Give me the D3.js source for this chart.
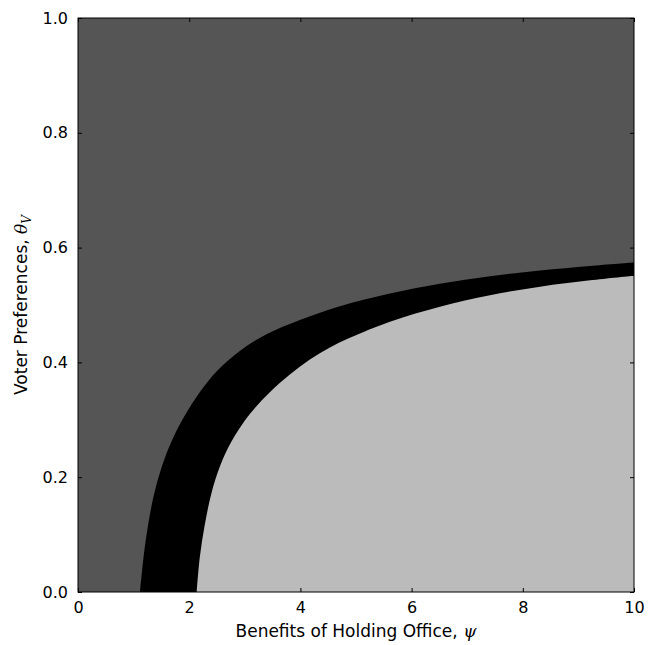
<!DOCTYPE html>
<html lang="en">
<head>
  <meta charset="utf-8">
  <title>Regions</title>
  <style>
    body { margin: 0; padding: 0; background: #fff; }
    text { font-family: 'DejaVu Sans', sans-serif; }
  </style>
</head>
<body>
  <div id="my_dataviz"></div>
  <script src="https://d3js.org/d3.v7.min.js"></script>
  <script>
    // boundary between dark gray and black region (psi, theta)
    var outerPsi   = [1.115, 1.205, 1.331, 1.439, 1.583, 1.763, 1.924, 2.19, 2.50, 2.91, 3.39, 3.99, 4.71, 5.61, 6.51, 7.41, 8.31, 9.21, 10.0];
    var outerTheta = [0.000, 0.081, 0.154, 0.197, 0.239, 0.279, 0.308, 0.348, 0.385, 0.420, 0.449, 0.474, 0.498, 0.520, 0.537, 0.550, 0.560, 0.568, 0.574];

    // boundary between black and light gray region
    var innerPsi   = [2.135, 2.19, 2.28, 2.40, 2.55, 2.76, 3.09, 3.45, 3.81, 4.17, 4.53, 4.89, 5.61, 6.51, 7.41, 8.31, 9.21, 10.0];
    var innerTheta = [0.000, 0.060, 0.117, 0.172, 0.218, 0.262, 0.310, 0.348, 0.379, 0.405, 0.426, 0.443, 0.471, 0.497, 0.517, 0.532, 0.543, 0.551];

    var xTicks = [0, 2, 4, 6, 8, 10];
    var yTicks = [0.0, 0.2, 0.4, 0.6, 0.8, 1.0];

    var margin = { top: 18, right: 16, bottom: 53, left: 78 },
      width = 650 - margin.left - margin.right,
      height = 645 - margin.top - margin.bottom;

    var svg = d3.select("#my_dataviz")
      .append("svg")
      .attr("width", 650)
      .attr("height", 645)
      .append("g")
      .attr("transform", "translate(" + margin.left + "," + margin.top + ")");

    var x = d3.scaleLinear().domain([0, 10]).range([0, width]);
    var y = d3.scaleLinear().domain([0, 1]).range([height, 0]);

    // background region
    svg.append("rect")
      .attr("width", width)
      .attr("height", height)
      .attr("fill", "#555555");

    var line = d3.line()
      .x(function (d) { return x(d[0]); })
      .y(function (d) { return y(d[1]); })
      .curve(d3.curveCatmullRom);

    var outerPts = outerPsi.map(function (p, i) { return [p, outerTheta[i]]; });
    var innerPts = innerPsi.map(function (p, i) { return [p, innerTheta[i]]; });

    svg.append("path")
      .attr("d", line(outerPts) + "L" + x(10) + "," + y(0) + "Z")
      .attr("fill", "#000000");

    svg.append("path")
      .attr("d", line(innerPts) + "L" + x(10) + "," + y(0) + "Z")
      .attr("fill", "#bbbbbb");

    // axes, ticks inside
    svg.append("g")
      .attr("transform", "translate(0," + height + ")")
      .call(d3.axisBottom(x).tickValues(xTicks).tickSize(-4).tickPadding(10).tickFormat(d3.format("d")));
    svg.append("g")
      .call(d3.axisTop(x).tickValues(xTicks).tickSize(-4).tickFormat(""));
    svg.append("g")
      .call(d3.axisLeft(y).tickValues(yTicks).tickSize(-4).tickPadding(10).tickFormat(d3.format(".1f")));
    svg.append("g")
      .attr("transform", "translate(" + width + ",0)")
      .call(d3.axisRight(y).tickValues(yTicks).tickSize(-4).tickFormat(""));

    svg.selectAll(".domain").remove();
    svg.selectAll(".tick line").attr("stroke", "#000").attr("stroke-width", 1);
    svg.selectAll(".tick text")
      .attr("font-family", "DejaVu Sans")
      .attr("font-size", 16)
      .attr("fill", "#000");

    // frame
    svg.append("rect")
      .attr("width", width)
      .attr("height", height)
      .attr("fill", "none")
      .attr("stroke", "#000")
      .attr("stroke-width", 1);

    // X axis label
    var xl = svg.append("text")
      .attr("text-anchor", "middle")
      .attr("x", width / 2)
      .attr("y", height + 45)
      .attr("font-size", 17)
      .attr("fill", "#000");
    xl.append("tspan").text("Benefits of Holding Office, ");
    xl.append("tspan").attr("font-family", "DejaVu Serif").attr("font-style", "italic").text("ψ");

    // Y axis label
    var yl = svg.append("text")
      .attr("text-anchor", "middle")
      .attr("transform", "translate(-51," + (height / 2) + ") rotate(-90)")
      .attr("font-size", 17)
      .attr("fill", "#000");
    yl.append("tspan").text("Voter Preferences, ");
    yl.append("tspan").attr("font-family", "DejaVu Serif").attr("font-style", "italic").text("θ");
    yl.append("tspan").attr("font-family", "DejaVu Serif").attr("font-style", "italic")
      .attr("font-size", 12).attr("dy", 4).text("V");
  </script>
</body>
</html>
